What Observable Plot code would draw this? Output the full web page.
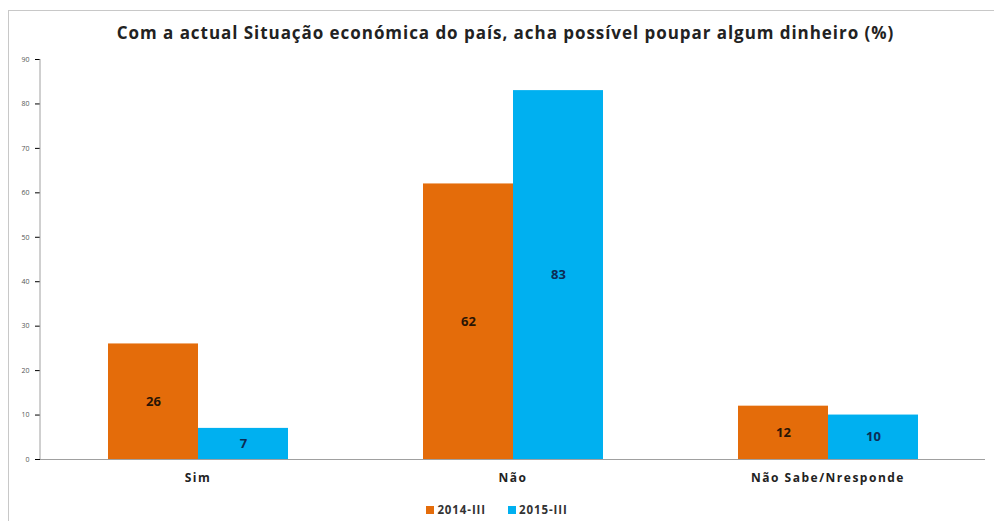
<!DOCTYPE html>
<html><head><meta charset="utf-8">
<script src="https://cdn.jsdelivr.net/npm/d3@7"></script>
<script src="https://cdn.jsdelivr.net/npm/@observablehq/plot@0.6"></script>
<style>
body{margin:0;background:#fff;width:994px;height:521px;overflow:hidden;font-family:"Open Sans",sans-serif;position:relative}
#frame{position:absolute;left:8px;top:10px;width:990px;height:520px;border-left:1px solid #c8c8c8;border-top:1px solid #c8c8c8;}
#title{position:absolute;left:0;top:21px;width:1011px;text-align:center;font-weight:700;font-size:17px;line-height:24px;color:#222;letter-spacing:0.95px}
#chart{position:absolute;left:0;top:50px}
#legend{position:absolute;top:493px;left:0;width:1016px;display:flex;justify-content:center}
#legend *{font-family:"Open Sans",sans-serif;font-weight:700;font-size:11.5px;color:#333;letter-spacing:0.9px}
#legend span{margin-right:22px}
#legend svg{margin-right:3px !important}
</style></head>
<body>
<div id="frame"></div>
<div id="title">Com a actual Situação económica do país, acha possível poupar algum dinheiro (%)</div>
<div id="chart"></div>
<div id="legend"></div>
<script>
const categories = ["Sim", "Não", "Não Sabe/Nresponde"];
const series = ["2014-III", "2015-III"];
const values2014 = [26, 62, 12];
const values2015 = [7, 83, 10];
const yTicks = [0, 10, 20, 30, 40, 50, 60, 70, 80, 90];
const colors = ["#E46C0A", "#00B0F0"];

const data = [];
categories.forEach((c, i) => {
  data.push({cat: c, series: series[0], value: values2014[i]});
  data.push({cat: c, series: series[1], value: values2015[i]});
});

const plot = Plot.plot({
  width: 994,
  height: 445,
  marginLeft: 40,
  marginRight: 9,
  marginTop: 9,
  marginBottom: 36,
  style: {fontFamily: "Open Sans, sans-serif", background: "transparent"},
  fx: {domain: categories, padding: 0, label: null},
  x: {domain: series, axis: null, paddingInner: 0, paddingOuter: 0.75},
  y: {domain: [0, 90], label: null},
  color: {domain: series, range: colors},
  marks: [
    Plot.axisY({ticks: yTicks, tickSize: 5, tickPadding: 6, fontSize: 7, label: null}),
    Plot.axisFx({anchor: "bottom", tickSize: 0, tickPadding: 14, fontSize: 12, fontWeight: 700, label: null}),
    Plot.barY(data, {fx: "cat", x: "series", y: "value", fill: "series"}),
    Plot.ruleY([0], {stroke: "#a0a0a0"}),
    Plot.text(data.filter(d => d.series === series[0]), {fx: "cat", x: "series", y: d => d.value / 2, text: d => String(d.value), fill: "#2a1505", fontWeight: 700, fontSize: 13}),
    Plot.text(data.filter(d => d.series === series[1]), {fx: "cat", x: "series", y: d => d.value / 2, text: d => String(d.value), fill: "#0c2c55", fontWeight: 700, fontSize: 13})
  ]
});
document.getElementById("chart").appendChild(plot);

const svg = d3.select(plot);
svg.selectAll('[aria-label="y-axis tick"]').attr("stroke", "#a0a0a0");
svg.selectAll('[aria-label="y-axis tick label"]').attr("fill", "#555");
svg.selectAll('[aria-label="fx-axis tick label"]').attr("fill", "#222").style("letter-spacing", "1.5px");
const ys = plot.scale("y");
svg.append("line")
  .attr("x1", 40).attr("x2", 40)
  .attr("y1", ys.apply(0)).attr("y2", ys.apply(90))
  .attr("stroke", "#a0a0a0");

const leg = Plot.legend({color: {domain: series, range: colors}, legend: "swatches", swatchSize: 8});
document.getElementById("legend").appendChild(leg);
</script>
</body></html>
